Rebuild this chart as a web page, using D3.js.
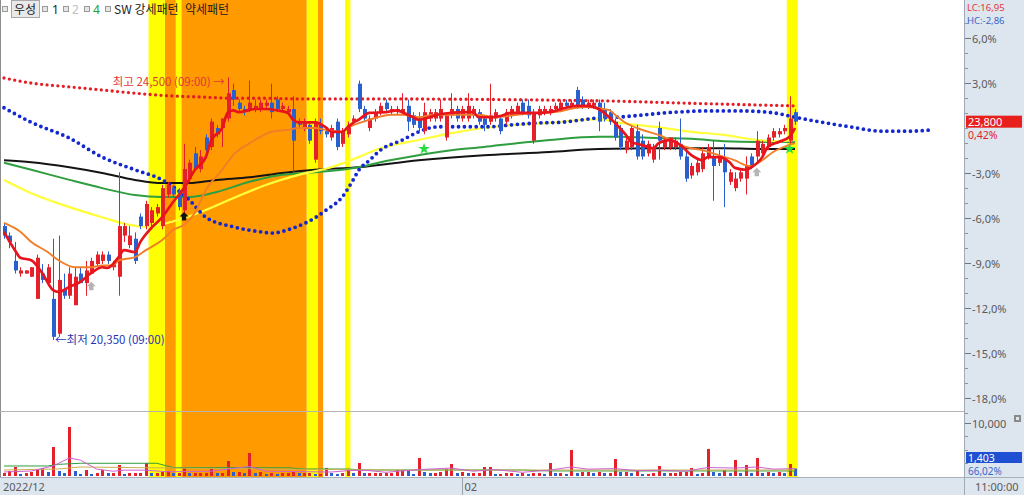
<!DOCTYPE html>
<html><head><meta charset="utf-8">
<script src="https://cdn.jsdelivr.net/npm/d3@7"></script>
<style>
html,body{margin:0;padding:0;background:#fff;overflow:hidden;}
svg{display:block;}
text{font-family:"Noto Sans","Noto Sans CJK KR",sans-serif;}
.kr{font-family:"Noto Sans CJK KR","Noto Sans",sans-serif;}
</style></head><body>
<svg id="c" width="1024" height="495"></svg>
<script>
// ---------------- DATA ----------------
const basePrice = 23700;            // reference price for % axis
const opens = [22150,22000,21600,21400,21400,21350,21000,21400,21250,21000,
20450,21150,21050,20900,21400,21250,21400,21550,21600,21700,
21500,21350,22000,21850,21950,22300,22150,22200,22350,22150,
22650,22750,22700,22400,22900,23300,23050,23550,23400,23700,
23700,23850,24300,24100,24000,24000,24000,24000,24050,24100,
24150,24000,23950,24000,23800,23700,23750,23200,23750,23650,
23550,23800,23450,23600,23800,24400,24000,23700,23850,23950,
24100,23950,23950,23950,24050,23900,23850,23650,23850,23850,
23850,23550,23900,24000,23850,23850,23900,23950,23850,23800,
23850,23850,23800,23900,23950,24100,24050,23500,23900,23950,
23950,24000,24000,24100,24050,24300,24150,24050,24050,24100,
24000,23950,23800,23700,23350,23400,23650,23500,23300,23200,
23700,23400,23400,23400,23450,23250,22950,23000,23050,23250,
23250,23150,23200,22850,22750,22900,22900,23250,23250,23300,
23400,23550,23600,23650,23500,23950];
const highs = [22200,22050,21900,21500,21450,21500,21700,21550,21550,21950,
22000,21400,21500,21500,21500,21600,21650,21750,21750,21750,
21600,23000,22200,22150,22050,22350,22550,22450,22500,22800,
22850,22800,22750,23450,23200,23400,23350,23600,23850,23750,
23850,24500,24400,24150,24050,24450,24150,24150,24150,24400,
24200,24100,24050,24200,23850,23850,23800,23850,23850,23700,
23750,23850,23700,23800,23900,24450,24050,23900,24000,24100,
24150,24050,24050,24250,24150,23950,23950,24100,24000,24000,
24150,23950,24250,24050,24050,24250,24050,24000,23900,24400,
24000,23900,24000,24050,24100,24150,24150,24000,24050,24050,
24050,24100,24150,24150,24150,24350,24200,24150,24150,24150,
24100,24000,23850,23750,23550,23750,23750,23600,23500,23450,
23800,23550,23550,23550,23850,23350,23150,23200,23400,23450,
23500,23350,23450,23050,23000,23050,23250,23300,23650,23500,
23600,23700,23700,23750,24200,24000];
const lows = [21950,21800,21400,21350,21400,21350,21000,21250,21200,20350,
20400,21000,21000,20900,21250,21050,21400,21500,21550,21550,
21450,21050,21900,21800,21550,22100,22100,22150,22300,22100,
22600,22600,22400,22300,22850,23050,23000,23300,23350,23550,
23400,23800,24050,23950,23900,23950,23950,23950,24000,23850,
23950,23950,23900,23000,23700,23650,23450,23150,23600,23550,
23500,23350,23400,23550,23750,23950,23800,23650,23800,23900,
23950,23900,23900,23900,23650,23700,23650,23600,23800,23800,
23800,23500,23850,23800,23800,23800,23850,23750,23650,23750,
23800,23600,23750,23850,23900,23900,23850,23450,23850,23900,
23900,23950,23950,24000,24000,24000,24000,24000,24000,23650,
23800,23750,23500,23350,23300,23350,23200,23200,23250,23150,
23200,23350,23350,23350,23200,22850,22900,22950,23000,23200,
22550,23100,22450,22800,22700,22850,22650,23050,23150,23250,
23350,23500,23550,23600,23450,23750];
const closes = [22000,21900,21450,21450,21450,21500,21650,21300,21500,20400,
21300,21050,21400,21350,21250,21450,21600,21700,21700,21600,
21550,22150,22150,22000,21600,22150,22500,22400,22450,22750,
22800,22650,22450,23050,23150,23050,23250,23350,23800,23600,
23850,24250,24150,24000,23950,24100,24050,24100,24100,23950,
24000,24050,24000,23500,23750,23800,23500,23800,23650,23600,
23700,23400,23650,23750,23850,24000,23850,23850,23950,24050,
24000,24000,24000,24000,23800,23750,23700,23950,23950,23950,
24000,23900,24000,23850,24000,24050,24000,23800,23750,23900,
23950,23650,23950,24000,24050,23950,23900,23950,24000,24000,
24000,24050,24100,24050,24100,24050,24050,24100,24100,23800,
23850,23800,23550,23400,23500,23700,23250,23250,23450,23400,
23500,23500,23550,23500,23250,22900,23100,23150,23300,23400,
23100,23250,23000,23000,22900,23000,23100,23100,23500,23450,
23550,23650,23650,23700,23850,23800];
const volumes = [560,940,1700,380,560,750,1130,1510,750,5470,
940,560,9250,940,380,1130,380,560,1130,560,
560,2080,380,560,560,560,2450,560,560,750,
940,560,560,1510,560,560,560,560,1320,560,
560,2830,750,750,560,4340,560,750,380,560,
380,560,560,750,560,560,560,380,380,1510,
560,380,560,1320,560,2450,560,560,560,560,
560,560,1130,1130,940,380,3400,750,560,560,
750,1320,2270,560,750,560,560,560,1700,1700,
380,380,560,560,380,560,380,560,560,380,
2450,560,560,380,4910,560,750,750,560,750,
560,560,3210,750,750,560,940,380,380,560,
1890,560,560,560,750,750,1510,380,560,5100,
750,560,1130,560,3020,560,2080,560,3400,560,
750,560,750,560,2270,1403];

// moving averages / indicator lines: [candle index, price]
const maRed = [[0,22060],[2,21770],[3,21650],[5,21610],[7,21410],[9,21140],[10,21110],[12,21190],[14,21270],[16,21410],[18,21500],[19,21490],[21,21660],[22,21770],[24,21740],[25,21900],[27,22120],[29,22290],[31,22530],[33,22750],[35,23040],[37,23240],[38,23510],[40,23700],[41,23940],[42,23980],[43,23950],[46,24000],[48,24000],[50,23980],[52,23940],[53,23830],[54,23790],[57,23790],[59,23710],[60,23640],[62,23640],[63,23710],[64,23780],[65,23830],[67,23940],[70,23950],[72,23980],[73,23950],[75,23870],[76,23830],[78,23870],[79,23900],[82,23940],[84,23950],[86,23950],[87,23870],[89,23870],[91,23890],[93,23940],[95,23940],[98,23940],[100,23950],[103,24020],[105,24050],[107,24050],[109,24000],[112,23780],[114,23590],[115,23480],[117,23430],[119,23380],[120,23460],[122,23510],[124,23430],[126,23270],[128,23190],[129,23240],[131,23240],[133,23160],[134,23070],[136,23040],[137,23080],[139,23240],[140,23400],[142,23480],[144,23560],[145,23700]];
const maOrange = [[0,22200],[3,22060],[5,21900],[8,21740],[10,21610],[13,21500],[16,21500],[18,21530],[20,21530],[21,21610],[24,21660],[26,21770],[29,21930],[31,22090],[33,22170],[35,22360],[37,22720],[40,23040],[42,23270],[45,23460],[47,23560],[49,23640],[52,23670],[54,23700],[57,23700],[59,23670],[62,23640],[63,23700],[67,23830],[71,23910],[73,23910],[76,23870],[79,23910],[83,23910],[87,23910],[90,23870],[94,23910],[98,23940],[101,23950],[105,24020],[107,24030],[111,23980],[112,23910],[114,23780],[117,23670],[120,23590],[123,23480],[125,23400],[128,23350],[131,23270],[134,23190],[136,23110],[137,23100],[139,23190],[141,23320],[143,23400],[145,23460]];
const maYellow = [[0,22880],[5,22670],[12,22450],[18,22290],[23,22170],[26,22140],[30,22200],[32,22250],[36,22370],[42,22590],[48,22800],[54,22960],[60,23080],[65,23240],[69,23380],[76,23510],[82,23620],[88,23700],[94,23750],[100,23780],[106,23830],[109,23840],[113,23780],[120,23710],[126,23640],[132,23590],[138,23510],[142,23490],[145,23510]];
const maGreen = [[0,23150],[5,23040],[12,22880],[18,22750],[24,22640],[29,22610],[34,22610],[39,22690],[45,22850],[51,22960],[57,23000],[65,23080],[69,23160],[76,23270],[82,23350],[88,23400],[94,23460],[100,23510],[109,23560],[113,23560],[120,23540],[126,23530],[132,23490],[138,23480],[145,23480]];
const maBlack = [[0,23190],[5,23160],[12,23080],[18,22990],[24,22880],[29,22830],[34,22830],[39,22880],[45,22920],[51,22990],[57,23040],[65,23080],[76,23190],[88,23270],[100,23320],[109,23370],[120,23380],[132,23380],[138,23370],[145,23370]];
const dotBlue = [[0,24020],[5,23790],[12,23540],[18,23240],[24,23040],[29,22880],[34,22560],[37,22290],[42,22140],[47,22060],[49,22040],[53,22120],[57,22280],[59,22400],[62,22610],[64,22880],[65,23030],[67,23190],[69,23350],[73,23510],[76,23640],[78,23700],[80,23720],[85,23720],[89,23720],[93,23750],[98,23780],[102,23790],[106,23830],[109,23860],[112,23870],[123,23950],[129,23970],[135,23970],[141,23940],[145,23870],[150,23790],[155,23720],[161,23650],[166,23650],[170,23670]];
const dotRed = [[0,24490],[5,24410],[12,24350],[18,24300],[24,24250],[30,24210],[36,24190],[42,24170],[48,24170],[54,24160],[60,24160],[65,24160],[109,24130],[126,24090],[145,24050]];

// volume averages: [index, volume]
const volGreen = [[0,1890],[8,1890],[10,2200],[14,2400],[28,2400],[31,1600],[52,1550],[55,1320],[63,1320],[66,1130],[95,1130],[100,950],[145,950]];
const volTan = [[0,1130],[10,1320],[14,1700],[30,1510],[50,1320],[70,1130],[100,1130],[145,1130]];
const volPink = [[0,760],[5,940],[9,1900],[12,3400],[14,3000],[17,1300],[20,900],[22,1100],[26,1100],[30,800],[38,900],[41,1300],[45,1800],[48,900],[60,750],[63,1000],[66,1100],[70,700],[76,1200],[82,1500],[86,900],[90,1200],[95,700],[100,1100],[104,1700],[107,1300],[112,1400],[116,1000],[120,1100],[125,900],[129,1600],[134,1500],[138,1700],[141,1300],[145,1400]];

// signal bands: [first index, last index]
const bandsYellow = [[27,29],[32,32],[56,57],[63,63],[144,145]];
const bandsOrange = [[30,31],[33,55],[58,58]];
// markers: [index, price]
const markGray = [[16,21200],[138,23000]];
const markBlack = [[33,22300]];
const markGreen = [[77,23370],[144,23370]];

const pctTicks = [6,3,-3,-6,-9,-12,-15,-18];
const volTicks = [10000];
const xLabels = [["2022/12",0],["02",84]];
const timeLabel = "11:00:00";
const volRatio = "66,02%";
const hiTime = "(09:00)", loTime = "(09:00)";
const legendItems = ["1","2","4"];

// ---------------- CHART ----------------
const svg = d3.select('#c');
const W = 1024, H = 495;
const N = closes.length;
const x = d3.scaleLinear().domain([0, N-1]).range([4, 795]);
const step = x(1) - x(0);
const y = d3.scaleLinear().domain([basePrice*0.82, basePrice*1.06]).range([398, 38]);
const yv = d3.scaleLinear().domain([0, 10000]).range([476, 423]);
const fmtDec = (v, d) => v.toFixed(d).replace('.', ',');
const fmtInt = d3.format(',');
const RED = '#e4202a', BLUE = '#2a5fce';

svg.append('rect').attr('width', W).attr('height', H).attr('fill', '#fff');
svg.append('rect').attr('x', 965).attr('y', 0).attr('width', 59).attr('height', H).attr('fill', '#dde5ee');
svg.append('rect').attr('x', 0).attr('y', 478).attr('width', W).attr('height', 17).attr('fill', '#dde5ee');

// bands
const bandG = svg.append('g');
function band(arr, col) {
  bandG.selectAll(null).data(arr).join('rect')
    .attr('x', d => x(d[0]) - step/2).attr('width', d => (d[1]-d[0]+1)*step)
    .attr('y', 0).attr('height', 477).attr('fill', col);
}
band(bandsOrange, '#ff9a00');
band(bandsYellow, '#ffff00');

// frame lines
svg.append('line').attr('x1', 0.5).attr('x2', 0.5).attr('y1', 0).attr('y2', 478).attr('stroke', '#8c8c8c');
svg.append('line').attr('x1', 0).attr('x2', 965).attr('y1', 411.5).attr('y2', 411.5).attr('stroke', '#b4b4b4');
svg.append('line').attr('x1', 0).attr('x2', W).attr('y1', 477.5).attr('y2', 477.5).attr('stroke', '#a8b0ba');
svg.append('line').attr('x1', 964.5).attr('x2', 964.5).attr('y1', 0).attr('y2', H).attr('stroke', '#a0aab6');

svg.append('clipPath').attr('id', 'cm').append('rect').attr('x', 1).attr('y', 0).attr('width', 963).attr('height', 411);
const main = svg.append('g').attr('clip-path', 'url(#cm)');

const lineGen = d3.line().x(d => x(d[0])).y(d => y(d[1])).curve(d3.curveMonotoneX);
function drawLine(data, col, w) {
  main.append('path').attr('d', lineGen(data)).attr('fill', 'none').attr('stroke', col).attr('stroke-width', w)
    .attr('stroke-linejoin', 'round');
}
drawLine(maBlack, '#141414', 2);
drawLine(maGreen, '#2e9e3e', 2);
drawLine(maYellow, '#ffff3a', 2.2);

function dotted(data, col, w, gap) {
  main.append('path').attr('d', lineGen(data)).attr('fill', 'none').attr('stroke', col)
    .attr('stroke-width', w).attr('stroke-linecap', 'round').attr('stroke-dasharray', '0,' + gap);
}
dotted(dotRed, '#e41e24', 3.3, 5.45);
dotted(dotBlue, '#1428d0', 3.8, 5.9);

// candles
const cg = main.append('g');
const idx = d3.range(N);
const col = i => closes[i] >= opens[i] ? RED : BLUE;
cg.selectAll('line').data(idx).join('line')
  .attr('x1', i => Math.round(x(i)) + 0.5).attr('x2', i => Math.round(x(i)) + 0.5)
  .attr('y1', i => y(highs[i])).attr('y2', i => y(lows[i]))
  .attr('stroke', col).attr('stroke-width', 1);
cg.selectAll('rect').data(idx).join('rect')
  .attr('x', i => Math.round(x(i)) - 1).attr('width', 4)
  .attr('y', i => y(Math.max(opens[i], closes[i])))
  .attr('height', i => Math.max(1.5, Math.abs(y(opens[i]) - y(closes[i]))))
  .attr('fill', col);

drawLine(maOrange, '#f27d28', 1.9);
drawLine(maRed, '#e8141c', 2.7);

// markers
const arrowPath = 'M0,-4.5 L4.5,0 L2.2,0 L2.2,4 L-2.2,4 L-2.2,0 L-4.5,0 Z';
main.selectAll(null).data(markGray).join('path').attr('d', arrowPath)
  .attr('transform', d => `translate(${x(d[0])},${y(d[1])})`).attr('fill', '#b4b4b4');
main.selectAll(null).data(markBlack).join('path').attr('d', arrowPath)
  .attr('transform', d => `translate(${x(d[0])},${y(d[1])})`).attr('fill', '#111');
main.selectAll(null).data(markGreen).join('path').attr('d', d3.symbol(d3.symbolStar, 42))
  .attr('transform', d => `translate(${x(d[0])},${y(d[1])})`).attr('fill', '#22e040');

// hi / lo annotations
const maxHigh = d3.max(highs), minLow = d3.min(lows);
const hiIdx = highs.indexOf(maxHigh), loIdx = lows.indexOf(minLow);
main.append('text').attr('class', 'kr').attr('x', x(hiIdx) - 3).attr('y', y(maxHigh) + 9)
  .attr('text-anchor', 'end').attr('font-size', 11.5).attr('fill', '#e4363a')
  .text(`최고 ${fmtInt(maxHigh)} ${hiTime} →`);
main.append('text').attr('class', 'kr').attr('x', x(loIdx) + 2).attr('y', y(minLow) + 4)
  .attr('font-size', 11.5).attr('fill', '#2434b4')
  .text(`←최저 ${fmtInt(minLow)} ${loTime}`);

// volume
const vg = svg.append('g');
vg.selectAll('rect').data(idx).join('rect')
  .attr('x', i => Math.round(x(i)) - 1).attr('width', 3)
  .attr('y', i => yv(volumes[i])).attr('height', i => 476 - yv(volumes[i]))
  .attr('fill', i => (i === 0 || volumes[i] >= volumes[i-1]) ? RED : BLUE);
const vLine = d3.line().x(d => x(d[0])).y(d => yv(d[1]));
[[volGreen, '#2e9e3e'], [volTan, '#c8b050'], [volPink, '#d060d0']].forEach(([d, c]) => {
  vg.append('path').attr('d', vLine(d)).attr('fill', 'none').attr('stroke', c).attr('stroke-width', 1);
});

// right axis (percent)
const ax = svg.append('g');
for (let p = -19; p <= 7; p++) {
  const yy = Math.round(y(basePrice*(1+p/100))) + 0.5;
  ax.append('line').attr('x1', 965).attr('x2', 968).attr('y1', yy).attr('y2', yy).attr('stroke', '#8c96a2');
}
pctTicks.forEach(p => {
  const yy = Math.round(y(basePrice*(1+p/100))) + 0.5;
  ax.append('line').attr('x1', 965).attr('x2', 971).attr('y1', yy).attr('y2', yy).attr('stroke', '#6c7682');
  ax.append('text').attr('x', 972).attr('y', yy + 4).attr('font-size', 11).attr('fill', '#5a5a5a')
    .text(fmtDec(p, 1) + '%');
});
const last = closes[N-1];
const yl = y(last);
ax.append('rect').attr('x', 966).attr('y', yl - 6).attr('width', 56).attr('height', 12).attr('fill', '#e8201c');
ax.append('text').attr('x', 968).attr('y', yl + 4).attr('font-size', 11).attr('fill', '#fff').text(fmtInt(last));
ax.append('text').attr('x', 968).attr('y', yl + 17).attr('font-size', 10.5).attr('fill', '#e4202a')
  .text(fmtDec((last/basePrice - 1)*100, 2) + '%');
ax.append('text').attr('x', 967).attr('y', 10.5).attr('font-size', 9.5).attr('fill', '#e4363a')
  .text('LC:' + fmtDec((last/minLow - 1)*100, 2));
ax.append('text').attr('x', 967).attr('y', 24).attr('font-size', 9.5).attr('fill', '#3a66c8')
  .text('HC:' + fmtDec((last/maxHigh - 1)*100, 2));

// volume axis
[2500, 5000, 7500].forEach(v => {
  const yy = Math.round(yv(v)) + 0.5;
  ax.append('line').attr('x1', 965).attr('x2', 968).attr('y1', yy).attr('y2', yy).attr('stroke', '#8c96a2');
});
volTicks.forEach(v => {
  const yy = Math.round(yv(v)) + 0.5;
  ax.append('line').attr('x1', 965).attr('x2', 971).attr('y1', yy).attr('y2', yy).attr('stroke', '#6c7682');
  ax.append('text').attr('x', 972).attr('y', yy + 4).attr('font-size', 11).attr('fill', '#5a5a5a').text(fmtInt(v));
});
ax.append('rect').attr('x', 1014).attr('y', 415).attr('width', 7).attr('height', 7).attr('fill', '#8a8a8a');
ax.append('rect').attr('x', 1016).attr('y', 417).attr('width', 3).attr('height', 3).attr('fill', '#dde5ee');
const lastV = volumes[N-1];
ax.append('rect').attr('x', 966).attr('y', 452).attr('width', 56).attr('height', 11).attr('fill', '#1f4fd2');
ax.append('text').attr('x', 968).attr('y', 461.5).attr('font-size', 10.5).attr('fill', '#fff').text(fmtInt(lastV));
ax.append('text').attr('x', 968).attr('y', 475).attr('font-size', 10).attr('fill', '#3a66c8').text(volRatio);

// bottom axis
xLabels.forEach(([t, i]) => {
  const xx = i === 0 ? 3 : Math.round(x(i)) + 0.5;
  if (i !== 0) svg.append('line').attr('x1', xx).attr('x2', xx).attr('y1', 478).attr('y2', 495).attr('stroke', '#9aa4ae');
  svg.append('text').attr('x', i === 0 ? 3 : xx + 2).attr('y', 491).attr('font-size', 11).attr('fill', '#5a5a5a').text(t);
});
svg.append('text').attr('x', 975).attr('y', 491).attr('font-size', 11).attr('fill', '#5a5a5a').text(timeLabel);

// legend
const lg = svg.append('g');
function sq(xx) {
  lg.append('rect').attr('x', xx + 0.5).attr('y', 6.5).attr('width', 5).attr('height', 5)
    .attr('fill', '#e6e6e6').attr('stroke', '#9a9a9a');
}
sq(2);
lg.append('rect').attr('x', 11.5).attr('y', 0.5).attr('width', 28).attr('height', 17).attr('fill', '#e9e9e9').attr('stroke', '#a8a8a8');
lg.append('text').attr('class', 'kr').attr('x', 14).attr('y', 14).attr('font-size', 12).attr('fill', '#222').text('우성');
sq(42);
lg.append('text').attr('x', 52).attr('y', 14).attr('font-size', 12).attr('fill', '#222').text(legendItems[0]);
sq(63);
lg.append('text').attr('x', 72).attr('y', 14).attr('font-size', 12).attr('fill', '#c0c0c0').text(legendItems[1]);
sq(84);
lg.append('text').attr('x', 93).attr('y', 14).attr('font-size', 12).attr('fill', '#20a030').text(legendItems[2]);
sq(105);
lg.append('text').attr('class', 'kr').attr('x', 114).attr('y', 14).attr('font-size', 12).attr('fill', '#222').text('SW 강세패턴');
lg.append('text').attr('class', 'kr').attr('x', 185).attr('y', 14).attr('font-size', 12).attr('fill', '#222').text('약세패턴');
</script>
</body></html>
